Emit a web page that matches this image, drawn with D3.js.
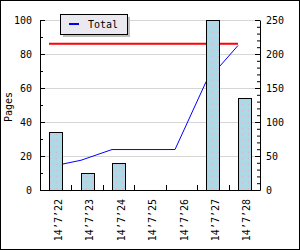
<!DOCTYPE html>
<html>
<head>
<meta charset="utf-8">
<script src="https://cdn.jsdelivr.net/npm/d3@7"></script>
<style>
  body { margin: 0; background: #fff; }
  svg text { font-family: "DejaVu Sans Mono", monospace; font-size: 10px; fill: #000; }
</style>
</head>
<body>
<div class="chart"></div>
<script>
const width = 300;
const height = 250;

// data
const days = ["14’7’22", "14’7’23", "14’7’24", "14’7’25", "14’7’26", "14’7’27", "14’7’28"];
const pages = [86, 25, 40, 0, 0, 250, 135];           // bars, right axis
const total = [13.6, 17.5, 23.8, 23.8, 23.8, 63.6, 85]; // blue line, left axis
const target = [86, 86, 86, 86, 86, 86, 86];           // red line, left axis
const leftTicks = [0, 20, 40, 60, 80, 100];
const leftMinor = [10, 30, 50, 70, 90];
const rightTicks = [0, 50, 100, 150, 200, 250];
const rightMinor = [10, 20, 30, 40, 60, 70, 80, 90, 110, 120, 130, 140, 160, 170, 180, 190, 210, 220, 230, 240];
const legendLabel = "Total";
const yTitle = "Pages";

const plotLeft = 40, plotRight = 260, plotTop = 20, plotBottom = 190;

const svg = d3.select(".chart").append("svg")
    .attr("width", width)
    .attr("height", height);

svg.append("rect")
    .attr("x", 0.5).attr("y", 0.5)
    .attr("width", width - 1).attr("height", height - 1)
    .attr("fill", "#fff")
    .attr("stroke", "#000");

// Scales
const x = d3.scaleBand()
    .domain(days)
    .range([plotLeft, plotRight])
    .paddingInner(0.58)
    .paddingOuter(0.29);

const yL = d3.scaleLinear().domain([0, 100]).range([plotBottom, plotTop]);
const yR = d3.scaleLinear().domain([0, 250]).range([plotBottom, plotTop]);

// Gridlines
svg.append("g").selectAll("line")
    .data(leftTicks.slice(1))
    .enter().append("line")
    .attr("x1", plotLeft).attr("x2", plotRight)
    .attr("y1", d => yL(d) + 0.5).attr("y2", d => yL(d) + 0.5)
    .attr("stroke", "#d6d6d6");

// Lines (points sit on the left edge of each bar)
const line = data => d3.line()
    .x((d, i) => Math.round(x(days[i])))
    .y(d => yL(d))(data);

svg.append("path")
    .attr("d", line(target))
    .attr("fill", "none")
    .attr("stroke", "#ff0000")
    .attr("stroke-width", 2);

svg.append("path")
    .attr("d", line(total))
    .attr("fill", "none")
    .attr("stroke", "#0000ff")
    .attr("stroke-width", 1);

// dotted fill for the bars
const pat = svg.append("defs").append("pattern")
    .attr("id", "dots")
    .attr("patternUnits", "userSpaceOnUse")
    .attr("width", 6).attr("height", 6);
pat.append("rect").attr("width", 6).attr("height", 6).attr("fill", "#add8e6");
pat.append("rect").attr("x", 2).attr("y", 2).attr("width", 1).attr("height", 1).attr("fill", "#d8b4c8");

// Bars
const barData = days.map((d, i) => ({ day: d, value: pages[i] })).filter(d => d.value > 0);
svg.append("g").selectAll("rect")
    .data(barData)
    .enter().append("rect")
    .attr("x", d => Math.round(x(d.day)) + 0.5)
    .attr("y", d => Math.round(yR(d.value)) + 0.5)
    .attr("width", Math.round(x.bandwidth()))
    .attr("height", d => plotBottom - Math.round(yR(d.value)))
    .attr("fill", "url(#dots)")
    .attr("stroke", "#000");

// Left axis
svg.append("g")
    .attr("transform", `translate(${plotLeft},0)`)
    .call(d3.axisLeft(yL).tickValues(leftTicks).tickSizeInner(-5).tickSizeOuter(0).tickPadding(8));
svg.append("g")
    .attr("transform", `translate(${plotLeft},0)`)
    .call(d3.axisLeft(yL).tickValues(leftMinor).tickSize(-3).tickFormat(""))
    .select(".domain").remove();

// Right axis
svg.append("g")
    .attr("transform", `translate(${plotRight},0)`)
    .call(d3.axisRight(yR).tickValues(rightTicks).tickSizeInner(-5).tickSizeOuter(0).tickPadding(6));
svg.append("g")
    .attr("transform", `translate(${plotRight},0)`)
    .call(d3.axisRight(yR).tickValues(rightMinor).tickSize(-3).tickFormat(""))
    .select(".domain").remove();

// Bottom axis
const xAxis = svg.append("g")
    .attr("transform", `translate(0,${plotBottom})`)
    .call(d3.axisBottom(x).tickSize(0).tickSizeOuter(0));
xAxis.selectAll(".tick text")
    .attr("transform", "rotate(-90)")
    .attr("text-anchor", "end")
    .attr("x", -9)
    .attr("y", 0)
    .attr("dy", "0.62em");

// ticks between categories
const step = x.step();
xAxis.selectAll("line.sep")
    .data(days.slice(1))
    .enter().append("line")
    .attr("class", "sep")
    .attr("x1", d => Math.round(x(d) - (step - x.bandwidth()) / 2) + 0.5)
    .attr("x2", d => Math.round(x(d) - (step - x.bandwidth()) / 2) + 0.5)
    .attr("y1", 0).attr("y2", -5)
    .attr("stroke", "#000");

svg.selectAll(".domain").attr("stroke", "#000");
svg.selectAll(".tick text").attr("font-family", "DejaVu Sans Mono").attr("font-size", 10);

// Y title
svg.append("text")
    .attr("transform", `translate(12,${(plotTop + plotBottom) / 2 + 2}) rotate(-90)`)
    .attr("text-anchor", "middle")
    .text(yTitle);

// Legend
svg.append("rect")
    .attr("x", 63).attr("y", 17)
    .attr("width", 67).attr("height", 20)
    .attr("fill", "#c0c0c0");
svg.append("rect")
    .attr("x", 60.5).attr("y", 14.5)
    .attr("width", 67).attr("height", 20)
    .attr("fill", "#ebe9f0")
    .attr("stroke", "#000");
svg.append("line")
    .attr("x1", 69).attr("x2", 79)
    .attr("y1", 24).attr("y2", 24)
    .attr("stroke", "#0000ff")
    .attr("stroke-width", 2);
svg.append("text")
    .attr("x", 88).attr("y", 28)
    .text(legendLabel);
</script>
</body>
</html>
